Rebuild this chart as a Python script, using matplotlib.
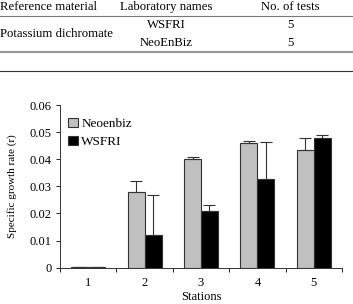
import matplotlib.pyplot as plt
import numpy as np

plt.rcParams['font.family'] = ['Liberation Serif', 'DejaVu Serif']

stations = ['1', '2', '3', '4', '5']
neo = [0.0001, 0.0278, 0.0400, 0.0460, 0.0435]
neo_err = [0.0, 0.0042, 0.0008, 0.0009, 0.0042]
wsfri = [0.0003, 0.0121, 0.0210, 0.0328, 0.0480]
wsfri_err = [0.0001, 0.0148, 0.0022, 0.0135, 0.0009]

tbl_header = ['Reference material', 'Laboratory names', 'No. of tests']
tbl_material = 'Potassium dichromate'
tbl_labs = ['WSFRI', 'NeoEnBiz']
tbl_tests = ['5', '5']

W, H = 353, 304
fig = plt.figure(figsize=(W / 100, H / 100), dpi=100)

def fy(y):
    return 1 - y / H

# table on top
fs = 9.2
fig.text(0 / W, fy(7), tbl_header[0], fontsize=fs, va='center', ha='left')
fig.text(166 / W, fy(7), tbl_header[1], fontsize=fs, va='center', ha='center')
fig.text(290 / W, fy(7), tbl_header[2], fontsize=fs, va='center', ha='center')
fig.text(0 / W, fy(34), tbl_material, fontsize=fs, va='center', ha='left')
for i, (lab, n) in enumerate(zip(tbl_labs, tbl_tests)):
    y = 25 + i * 18
    fig.text(166 / W, fy(y), lab, fontsize=fs, va='center', ha='center')
    fig.text(290 / W, fy(y), n, fontsize=fs, va='center', ha='center')
fig.add_artist(plt.Line2D([0, 1], [fy(15.5), fy(15.5)], color='#777777', lw=0.8))
fig.add_artist(plt.Line2D([0, 1], [fy(51.5), fy(51.5)], color='#999999', lw=1.6))
fig.add_artist(plt.Line2D([0, 1], [fy(70.5), fy(70.5)], color='#333333', lw=0.8))

# bar chart
ax = fig.add_axes([60 / W, fy(267.7), (342 - 60) / W, (267.7 - 105) / H])
x = np.arange(len(stations))
bw = 0.3
ekw = dict(ecolor='#333333', elinewidth=0.8, capthick=0.8)
ax.bar(x - bw / 2, neo, bw, color='#c0c0c0', edgecolor='#333333', lw=0.8,
       label='Neoenbiz', yerr=[np.zeros(5), neo_err], capsize=4.5, error_kw=ekw)
ax.bar(x + bw / 2, wsfri, bw, color='black', edgecolor='#333333', lw=0.8,
       label='WSFRI', yerr=[np.zeros(5), wsfri_err], capsize=4.5, error_kw=ekw)

ax.set_xlim(-0.5, len(stations) - 0.5)
ax.set_ylim(0, 0.06)
ax.set_yticks(np.arange(0, 0.061, 0.01))
ax.set_yticklabels(['0'] + ['%.2f' % v for v in np.arange(0.01, 0.061, 0.01)])
ax.set_xticks(x)
ax.set_xticklabels(stations)
ax.set_xticks(np.arange(-0.5, len(stations), 1), minor=True)
ax.tick_params(axis='x', which='major', length=0, pad=7, labelsize=9)
ax.tick_params(axis='x', which='minor', length=3, width=0.6, direction='out')
ax.tick_params(axis='y', length=3, width=0.6, labelsize=9, pad=3)
for s in ['top', 'right']:
    ax.spines[s].set_visible(False)
for s in ['left', 'bottom']:
    ax.spines[s].set_linewidth(0.7)
    ax.spines[s].set_color('#333333')

ax.set_ylabel('Specific growth rate (r)', fontsize=8, labelpad=9)
ax.set_xlabel('Stations', fontsize=9, labelpad=1)
ax.legend(loc='upper left', bbox_to_anchor=(0.0, 0.97), frameon=False,
          fontsize=9.5, handlelength=0.75, handleheight=0.75,
          handletextpad=0.25, labelspacing=0.4, borderaxespad=0.2)

fig.savefig('out.png', dpi=100)
